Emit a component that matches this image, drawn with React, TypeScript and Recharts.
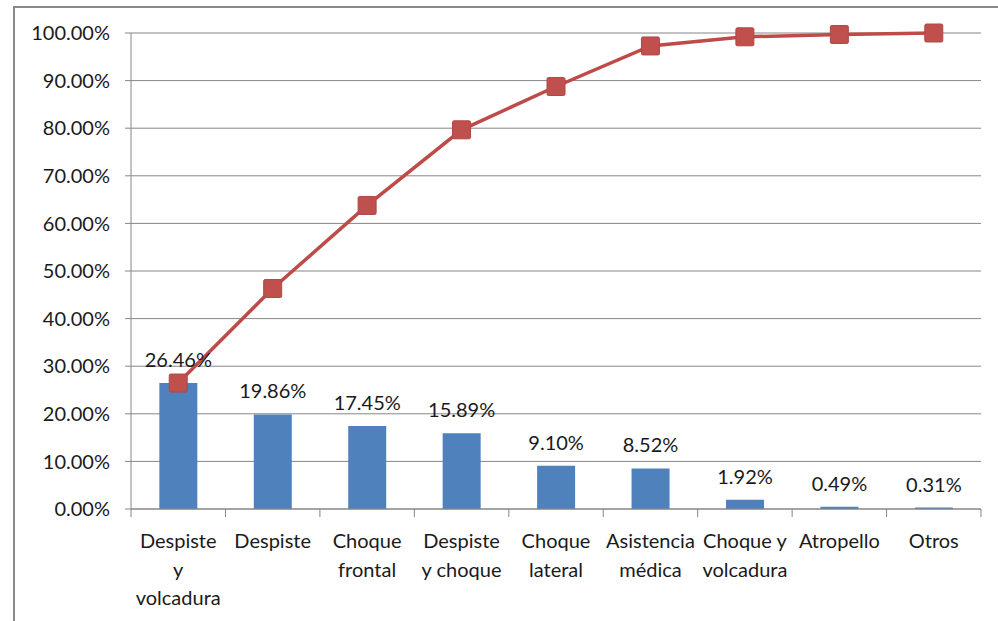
import { ComposedChart, Bar, Line, XAxis, YAxis, CartesianGrid, LabelList } from "recharts";

const categories = [
  "Despiste\ny\nvolcadura",
  "Despiste",
  "Choque\nfrontal",
  "Despiste\ny choque",
  "Choque\nlateral",
  "Asistencia\nmédica",
  "Choque y\nvolcadura",
  "Atropello",
  "Otros",
];
const shares = [26.46, 19.86, 17.45, 15.89, 9.1, 8.52, 1.92, 0.49, 0.31];
const cumulative = [26.46, 46.32, 63.77, 79.66, 88.76, 97.28, 99.2, 99.69, 100];
const yTicks = [0, 10, 20, 30, 40, 50, 60, 70, 80, 90, 100];

const data = categories.map((name, i) => ({
  name,
  share: shares[i],
  cum: cumulative[i],
}));

const FONT = "Lato, 'Open Sans', sans-serif";
const AXIS = "#868686";
const TEXT = "#1a1a1a";
const HALF_BAND = 47.2;

const CategoryTick = (props: any) => {
  const { x, y, payload, index } = props;
  const lines = String(payload.value).split("\n");
  return (
    <g>
      <line x1={x - HALF_BAND} x2={x - HALF_BAND} y1={y - 8} y2={y} stroke={AXIS} />
      {index === categories.length - 1 && (
        <line x1={x + HALF_BAND} x2={x + HALF_BAND} y1={y - 8} y2={y} stroke={AXIS} />
      )}
      <text x={x} y={y + 31} textAnchor="middle" fontSize={20} fill={TEXT} fontFamily={FONT}>
        {lines.map((l, i) => (
          <tspan key={i} x={x} dy={i === 0 ? 0 : 28.5}>
            {l}
          </tspan>
        ))}
      </text>
    </g>
  );
};

const ShareLabel = (props: any) => {
  const { x, y, width, value } = props;
  return (
    <text x={x + width / 2} y={y - 16} textAnchor="middle" fontSize={20} fill={TEXT} fontFamily={FONT}>
      {Number(value).toFixed(2)}%
    </text>
  );
};

const SquareDot = (props: any) => {
  const { cx, cy, index } = props;
  return (
    <rect
      key={index}
      x={cx - 9}
      y={cy - 9}
      width={18}
      height={18}
      rx={1.5}
      fill="#C0504D"
      stroke="#B04845"
      strokeWidth={1}
    />
  );
};

export default function App() {
  return (
    <div
      style={{
        position: "fixed",
        left: 0,
        top: 0,
        width: 998,
        height: 621,
        overflow: "hidden",
        background: "#fff",
      }}
    >
      <div
        style={{
          position: "absolute",
          left: 13,
          top: 6,
          width: 1100,
          height: 800,
          border: "2px solid #898989",
        }}
      />
      <div style={{ position: "absolute", left: 0, top: 0 }}>
        <ComposedChart
          width={998}
          height={621}
          data={data}
          margin={{ top: 33, right: 17, left: 0, bottom: 0 }}
          barCategoryGap="30%"
        >
          <CartesianGrid vertical={false} stroke={AXIS} strokeWidth={1} />
          <XAxis
            dataKey="name"
            height={112}
            interval={0}
            tickLine={false}
            stroke={AXIS}
            tick={<CategoryTick />}
          />
          <YAxis
            width={131}
            domain={[0, 100]}
            ticks={yTicks}
            interval={0}
            stroke={AXIS}
            tickSize={6}
            tickMargin={15}
            tickFormatter={(v: number) => `${v.toFixed(2)}%`}
            tick={{ fontSize: 20, fill: TEXT, fontFamily: FONT }}
          />
          <Bar dataKey="share" fill="#4F81BD" isAnimationActive={false}>
            <LabelList dataKey="share" content={<ShareLabel />} />
          </Bar>
          <Line
            dataKey="cum"
            type="linear"
            stroke="#BE4B48"
            strokeWidth={3.5}
            dot={<SquareDot />}
            activeDot={false}
            isAnimationActive={false}
          />
        </ComposedChart>
      </div>
    </div>
  );
}
